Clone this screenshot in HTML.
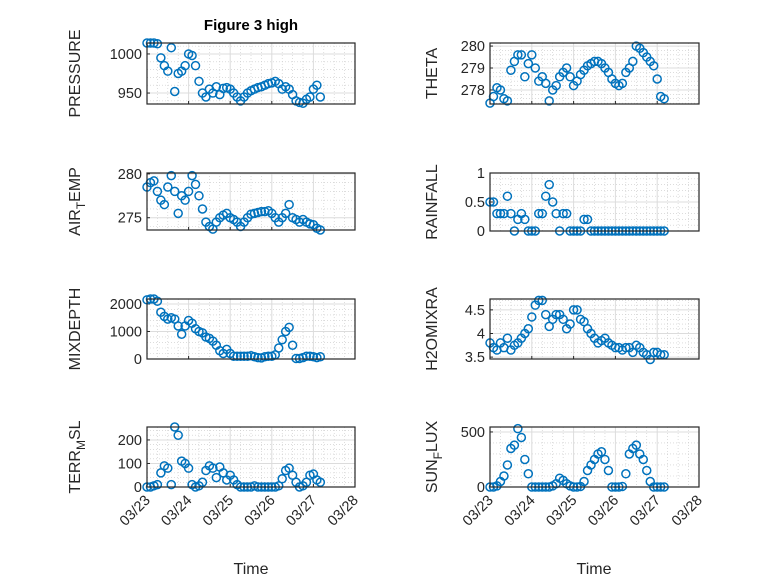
<!DOCTYPE html>
<html><head><meta charset="utf-8"><style>
html,body{margin:0;padding:0;background:#fff}
svg{display:block;font-family:"Liberation Sans","DejaVu Sans",sans-serif}
</style></head><body>
<svg id="fig" width="778" height="583" viewBox="0 0 778 583">
<rect width="778" height="583" fill="#fff"/>
<text x="251" y="30" text-anchor="middle" font-size="15" font-weight="bold" fill="#000">Figure 3 high</text>
</svg>
<script>
const hours = [0,2,4,6,8,10,12,14,16,18,20,22,24,26,28,30,32,34,36,38,40,42,44,46,48,50,52,54,56,58,60,62,64,66,68,70,72,74,76,78,80,82,84,86,88,90,92,94,96,98,100];
const xTickLabels = ["03/23","03/24","03/25","03/26","03/27","03/28"];
const pressure = [1014,1014,1014,1013,995,985,978,1008,952,975,978,985,1000,998,985,965,950,945,955,950,958,948,956,957,955,950,945,940,945,950,953,955,957,958,960,962,963,965,962,955,958,955,948,940,938,937,942,945,955,960,945];
const airTemp = [278.5,279,279.2,278,277,276.5,278.5,279.8,278,275.5,277.5,277,278,279.8,278.8,277.5,276,274.5,274,273.7,274.5,275,275.3,275.5,275,274.8,274.5,274,274.5,275,275.4,275.5,275.6,275.7,275.7,275.8,275.5,275,274.5,275,275.5,276.5,275,274.8,274.5,274.8,274.5,274.3,274.2,273.8,273.6];
const theta = [277.4,277.7,278.1,278.0,277.6,277.5,278.9,279.3,279.6,279.6,278.6,279.2,279.6,279.0,278.4,278.6,278.3,277.5,278.0,278.2,278.6,278.8,279.0,278.6,278.2,278.4,278.7,278.9,279.1,279.2,279.3,279.3,279.2,279.0,278.8,278.5,278.3,278.2,278.3,278.8,279.0,279.3,280.0,279.9,279.7,279.5,279.3,279.1,278.5,277.7,277.6];
const rainfall = [0.5,0.5,0.3,0.3,0.3,0.6,0.3,0,0.2,0.3,0.2,0,0,0,0.3,0.3,0.6,0.8,0.5,0.3,0,0.3,0.3,0,0,0,0,0.2,0.2,0,0,0,0,0,0,0,0,0,0,0,0,0,0,0,0,0,0,0,0,0,0];
const mixDepth = [2150,2180,2180,2100,1700,1550,1450,1500,1450,1200,900,1200,1400,1300,1100,1000,950,800,750,650,500,300,200,350,200,100,100,100,100,100,120,80,50,40,80,100,100,150,400,700,1000,1150,500,20,20,50,100,100,80,50,80];
const h2oMixRatio = [3.8,3.7,3.65,3.8,3.7,3.9,3.65,3.75,3.8,3.9,4.0,4.1,4.35,4.6,4.7,4.7,4.4,4.15,4.3,4.4,4.4,4.3,4.1,4.2,4.5,4.5,4.3,4.25,4.1,4.0,3.9,3.8,3.85,3.9,3.8,3.75,3.7,3.7,3.65,3.7,3.7,3.6,3.75,3.7,3.6,3.55,3.45,3.6,3.6,3.55,3.55];
const terrMsl = [0,0,5,10,60,90,80,10,255,220,110,100,80,10,0,5,20,70,90,80,40,85,60,30,50,30,10,0,0,0,0,5,0,0,0,0,0,0,5,35,70,80,50,20,0,5,20,50,55,30,20];
const sunFlux = [0,0,10,50,100,200,350,380,530,450,250,120,0,0,0,0,0,0,10,30,80,60,30,10,0,0,5,50,150,200,250,300,320,250,150,0,0,0,5,120,300,350,380,300,250,150,50,0,0,0,0];

const NS='http://www.w3.org/2000/svg';
const svg=document.getElementById('fig');
function mk(tag,attrs,parent){const e=document.createElementNS(NS,tag);for(const k in attrs)e.setAttribute(k,attrs[k]);(parent||svg).appendChild(e);return e;}

const panels=[
 {key:'pressure',data:pressure,x0:147,x1:355,y0:43,y1:104,ymin:936,ymax:1014,ticks:[950,1000],labels:['950','1000'],minor:10,ylabel:['PRESSURE'],lx:80,xt:false},
 {key:'theta',data:theta,x0:490,x1:699,y0:43,y1:104,ymin:277.36,ymax:280.14,ticks:[278,279,280],labels:['278','279','280'],minor:0.2,ylabel:['THETA'],lx:437,xt:false},
 {key:'air-temp',data:airTemp,x0:147,x1:355,y0:173,y1:230,ymin:273.6,ymax:280.1,ticks:[275,280],labels:['275','280'],minor:1,ylabel:['AIR','T','EMP'],lx:80,xt:false},
 {key:'rainfall',data:rainfall,x0:490,x1:699,y0:173,y1:231,ymin:0,ymax:1,ticks:[0,0.5,1],labels:['0','0.5','1'],minor:0.1,ylabel:['RAINFALL'],lx:437,xt:false},
 {key:'mixdepth',data:mixDepth,x0:147,x1:355,y0:299,y1:359,ymin:0,ymax:2180,ticks:[0,1000,2000],labels:['0','1000','2000'],minor:200,ylabel:['MIXDEPTH'],lx:80,xt:false},
 {key:'h2omixra',data:h2oMixRatio,x0:490,x1:699,y0:299,y1:359,ymin:3.46,ymax:4.73,ticks:[3.5,4,4.5],labels:['3.5','4','4.5'],minor:0.1,ylabel:['H2OMIXRA'],lx:437,xt:false},
 {key:'terr-msl',data:terrMsl,x0:147,x1:355,y0:427,y1:487,ymin:0,ymax:255,ticks:[0,100,200],labels:['0','100','200'],minor:20,ylabel:['TERR','M','SL'],lx:80,xt:true},
 {key:'sun-flux',data:sunFlux,x0:490,x1:699,y0:427,y1:487,ymin:0,ymax:545,ticks:[0,500],labels:['0','500'],minor:100,ylabel:['SUN','F','LUX'],lx:437,xt:true}
];

panels.forEach(p=>{
  const g=mk('g',{});
  
  
  const xs=h=>p.x0+(h/120)*(p.x1-p.x0);
  const ys=v=>p.y1-(v-p.ymin)/(p.ymax-p.ymin)*(p.y1-p.y0);
  for(let h=6;h<120;h+=6){ if(h%24===0)continue;
    const l=mk('line',{x1:xs(h),x2:xs(h),y1:p.y0,y2:p.y1,stroke:'#c8c8c8','stroke-width':0.6,'stroke-dasharray':'1,2'},g);
    
    
  }
  const start=Math.ceil(p.ymin/p.minor-1e-9);
  for(let k=start;k*p.minor<=p.ymax+1e-9;k++){
    const v=k*p.minor; if(p.ticks.some(t=>Math.abs(t-v)<1e-6))continue;
    const l=mk('line',{x1:p.x0,x2:p.x1,y1:ys(v),y2:ys(v),stroke:'#c8c8c8','stroke-width':0.6,'stroke-dasharray':'1,2'},g);
    
    
  }
  for(let d=1;d<5;d++){
    const l=mk('line',{x1:xs(d*24),x2:xs(d*24),y1:p.y0,y2:p.y1,stroke:'#dcdcdc','stroke-width':1},g);
    
    
  }
  p.ticks.forEach((t,i)=>{
    const y=ys(t);
    const l=mk('line',{x1:p.x0,x2:p.x1,y1:y,y2:y,stroke:'#dcdcdc','stroke-width':1},g);
    
    
    const tk=mk('line',{x1:p.x0,x2:p.x0+3,y1:y,y2:y,stroke:'#262626','stroke-width':1},g);
    
    
    const tx=mk('text',{x:p.x0-5,y:y+5,'text-anchor':'end','font-size':14.5,fill:'#262626'},g);
    tx.textContent=p.labels[i];
    
    
  });
  for(let d=0;d<=5;d++){
    const x=xs(d*24);
    const tk=mk('line',{x1:x,x2:x,y1:p.y1,y2:p.y1-3,stroke:'#262626','stroke-width':1},g);
    
    
    if(p.xt){
      const tx=mk('text',{x:x+4,y:p.y1+14,'text-anchor':'end','font-size':14.5,fill:'#262626',transform:`rotate(-45 ${x+4} ${p.y1+14})`},g);
      tx.textContent=xTickLabels[d];
      
      
    }
  }
  p.data.forEach((v,i)=>{
    const c=mk('circle',{cx:xs(hours[i]),cy:ys(v),r:4,fill:'none',stroke:'#0072BD','stroke-width':1.5},g);
    
    
  });
  const box=mk('rect',{x:p.x0,y:p.y0,width:p.x1-p.x0,height:p.y1-p.y0,fill:'none',stroke:'#262626','stroke-width':1.2},g);
  
  
  const cy=(p.y0+p.y1)/2;
  const yl=mk('text',{x:p.lx,y:cy,'text-anchor':'middle','font-size':16,fill:'#262626',transform:`rotate(-90 ${p.lx} ${cy})`},g);
  
  
  if(p.ylabel.length===1){yl.textContent=p.ylabel[0];}
  else{
    const a=mk('tspan',{},yl);a.textContent=p.ylabel[0];
    const b=mk('tspan',{dy:5,'font-size':12},yl);b.textContent=p.ylabel[1];
    const c=mk('tspan',{dy:-5},yl);c.textContent=p.ylabel[2];
  }
});
[[251,'time-label-left'],[594,'time-label-right']].forEach(([x,n])=>{
  const t=mk('text',{x:x,y:574,'text-anchor':'middle','font-size':16,fill:'#262626'});
  t.textContent='Time';
  
  
});
</script>
</body></html>
